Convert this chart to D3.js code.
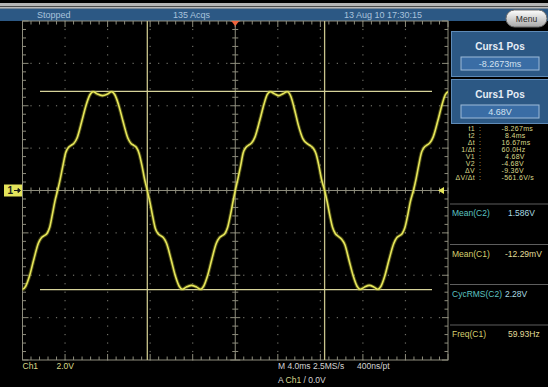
<!DOCTYPE html>
<html>
<head>
<meta charset="utf-8">
<script src="https://cdn.jsdelivr.net/npm/d3@7"></script>
<style>
  html, body { margin: 0; padding: 0; background: #000; }
  svg { display: block; font-family: "Liberation Sans", Arial, sans-serif; }
</style>
</head>
<body>
<div class="g-chart"></div>
<script>
//Screen size
var width = 548, height = 387;

//Graticule box, 10 x 8 divisions
var plot = {left: 22.5, right: 448, top: 21, bottom: 360};

//Ch1 trace: [time in ms, volts]
var ch1Trace = [
  [-20.35,-4.56],[-20.0,-4.66],[-19.7,-4.52],[-19.35,-4.05],[-18.95,-3.28],[-18.5,-2.48],
  [-18.2,-2.22],[-17.95,-2.13],[-17.7,-2.03],[-17.45,-1.75],[-17.2,-1.15],[-16.95,-0.5],[-16.7,0.0],
  [-16.45,0.55],[-16.19,1.2],[-15.94,1.78],[-15.68,2.03],[-15.43,2.13],[-15.18,2.22],[-14.87,2.48],
  [-14.42,3.28],[-14.01,4.05],[-13.66,4.52],[-13.35,4.66],[-12.99,4.56],[-12.49,4.48],[-11.98,4.56],
  [-11.63,4.66],[-11.32,4.52],[-10.97,4.05],[-10.56,3.28],[-10.10,2.48],[-9.80,2.22],[-9.54,2.13],
  [-9.29,2.03],[-9.04,1.75],[-8.78,1.2],[-8.53,0.55],[-8.27,0.0],
  [-8.02,-0.55],[-7.77,-1.2],[-7.52,-1.78],[-7.27,-2.03],[-7.02,-2.13],[-6.77,-2.22],[-6.47,-2.48],
  [-6.02,-3.28],[-5.62,-4.05],[-5.27,-4.52],[-4.97,-4.66],[-4.62,-4.56],[-4.12,-4.48],[-3.62,-4.56],
  [-3.27,-4.66],[-2.97,-4.52],[-2.62,-4.05],[-2.22,-3.28],[-1.77,-2.48],[-1.47,-2.22],[-1.22,-2.13],
  [-0.97,-2.03],[-0.72,-1.75],[-0.47,-1.2],[-0.22,-0.55],[0.0,0.0],
  [0.25,0.55],[0.5,1.15],[0.75,1.78],[1.0,2.03],[1.3,2.15],[1.55,2.25],[1.85,2.52],[2.3,3.3],
  [2.7,4.07],[3.0,4.52],[3.3,4.66],[3.7,4.56],[4.1,4.48],[4.5,4.57],[4.88,4.66],[5.22,4.45],
  [5.56,3.85],[5.95,3.05],[6.35,2.45],[6.8,2.2],[7.1,2.1],[7.35,1.98],[7.6,1.72],[7.85,1.2],
  [8.1,0.55],[8.4,0.0],
  [8.65,-0.55],[8.9,-1.2],[9.15,-1.75],[9.4,-2.03],[9.7,-2.17],[10.0,-2.3],[10.3,-2.55],[10.7,-3.3],
  [11.1,-4.05],[11.45,-4.52],[11.75,-4.66],[12.15,-4.56],[12.6,-4.48],[13.05,-4.56],[13.4,-4.66],
  [13.7,-4.52],[14.05,-4.05],[14.45,-3.28],[14.9,-2.5],[15.2,-2.22],[15.45,-2.13],[15.7,-2.03],
  [15.95,-1.75],[16.2,-1.2],[16.45,-0.55],[16.75,0.0],
  [17.0,0.55],[17.25,1.2],[17.5,1.78],[17.75,2.03],[18.05,2.15],[18.3,2.25],[18.6,2.52],[19.05,3.3],
  [19.45,4.07],[19.75,4.52],[20.05,4.66],[20.4,4.56]
];

//Cursor positions
var cursorTimes = [-8.267, 8.4];
var cursorVolts = [4.68, -4.68];

//Division lines (4 ms/div, 2 V/div)
var timeDivs = [-16, -12, -8, -4, 4, 8, 12, 16];
var voltDivs = [-6, -4, -2, 2, 4, 6];

//Header texts
var headerTexts = ["Stopped", "135 Acqs", "13 Aug 10 17:30:15"];

//Cursor readout
var readoutLabels = ["t1", "t2", "Δt", "1/Δt", "V1", "V2", "ΔV", "ΔV/Δt"];
var readoutValues = ["-8.267ms", " 8.4ms", "16.67ms", "60.0Hz", " 4.68V", "-4.68V", "-9.36V", "-561.6V/s"];

//Measurements
var measLabels = ["Mean(C2)", "Mean(C1)", "CycRMS(C2)", "Freq(C1)"];
var measValues = ["1.586V", "-12.29mV", "2.28V", "59.93Hz"];
var measChannels = ["C2", "C1", "C2", "C1"];

//Colours
var yellow = "#e6e65a",
    textYellow = "#d9d88a",
    cyanLabel = "#5cc3c0",
    cyanValue = "#a9dbe2",
    gratColor = "#8d8c7c",
    dotColor = "#6e6e66",
    cursorColor = "#c9c48c",
    blue = "#2c5884";

var svg = d3.select(".g-chart").append("svg")
  .attr("width", width)
  .attr("height", height);

svg.append("rect").attr("width", width).attr("height", height).attr("fill", "#000");

//Scales
var xScale = d3.scaleLinear().domain([-20, 20]).range([plot.left, plot.right]);
var yScale = d3.scaleLinear().domain([-8, 8]).range([plot.bottom, plot.top]);

//Top strip and header bar
svg.append("rect").attr("x", 0).attr("y", 3).attr("width", width).attr("height", 3).attr("fill", "#b5b5b5");
svg.append("rect").attr("x", 0).attr("y", 6).attr("width", width).attr("height", 1.2).attr("fill", "#4a4a4a");
svg.append("rect").attr("x", 0).attr("y", 7.2).attr("width", width).attr("height", 1.5).attr("fill", "#e4e4e4");
svg.append("rect").attr("x", 0).attr("y", 8.7).attr("width", width).attr("height", 12.3).attr("fill", blue);

var headerX = [37, 173, 344];
svg.selectAll(".hdr")
  .data(headerTexts)
  .enter().append("text")
  .attr("class", "hdr")
  .attr("x", function(d, i) { return headerX[i]; })
  .attr("y", 18.3)
  .attr("font-size", 9)
  .attr("fill", "#a9c3dc")
  .text(function(d) { return d; });

//Menu button
var grad = svg.append("defs").append("linearGradient")
  .attr("id", "menuGrad").attr("x1", 0).attr("y1", 0).attr("x2", 0).attr("y2", 1);
grad.append("stop").attr("offset", "0%").attr("stop-color", "#ffffff");
grad.append("stop").attr("offset", "100%").attr("stop-color", "#a8a8a8");
svg.append("rect")
  .attr("x", 506).attr("y", 10).attr("width", 41).attr("height", 17).attr("rx", 8.5)
  .attr("fill", "url(#menuGrad)").attr("stroke", "#6c6c6c").attr("stroke-width", 1);
svg.append("text")
  .attr("x", 526.5).attr("y", 21.5).attr("text-anchor", "middle")
  .attr("font-size", 8.5).attr("fill", "#2a2a2a").text("Menu");

//Graticule
var grat = svg.append("g").attr("class", "graticule");

//Dotted division lines
var minorT = d3.range(-20, 20.01, 0.8);
var minorV = d3.range(-8, 8.01, 0.4);
timeDivs.forEach(function(t) {
  grat.selectAll(null).data(minorV).enter().append("rect")
    .attr("x", xScale(t) - 0.6).attr("y", function(v) { return yScale(v) - 0.6; })
    .attr("width", 1.2).attr("height", 1.2).attr("fill", dotColor);
});
voltDivs.forEach(function(v) {
  grat.selectAll(null).data(minorT).enter().append("rect")
    .attr("x", function(t) { return xScale(t) - 0.6; }).attr("y", yScale(v) - 0.6)
    .attr("width", 1.2).attr("height", 1.2).attr("fill", dotColor);
});

//Frame and centre lines
grat.append("rect")
  .attr("x", plot.left).attr("y", plot.top)
  .attr("width", plot.right - plot.left).attr("height", plot.bottom - plot.top)
  .attr("fill", "none").attr("stroke", gratColor).attr("stroke-width", 1);
grat.append("line")
  .attr("x1", plot.left).attr("x2", plot.right)
  .attr("y1", yScale(0)).attr("y2", yScale(0))
  .attr("stroke", gratColor);
grat.append("line")
  .attr("x1", xScale(0)).attr("x2", xScale(0))
  .attr("y1", plot.top).attr("y2", plot.bottom)
  .attr("stroke", gratColor);

function isMajor(v, step) { return Math.abs(v / step - Math.round(v / step)) < 1e-6; }

//Ticks on the horizontal edges and the horizontal centre line
grat.selectAll(".tx").data(minorT).enter().append("path")
  .attr("class", "tx")
  .attr("d", function(t) {
    var x = xScale(t), big = isMajor(t, 4) ? 6 : 3.5;
    return "M" + x + "," + plot.top + "v" + big +
           "M" + x + "," + plot.bottom + "v" + (-big) +
           "M" + x + "," + (yScale(0) - 3) + "v6";
  })
  .attr("stroke", gratColor).attr("stroke-width", 1);

//Ticks on the vertical edges and the vertical centre line
grat.selectAll(".ty").data(minorV).enter().append("path")
  .attr("class", "ty")
  .attr("d", function(v) {
    var y = yScale(v), big = isMajor(v, 2) ? 6 : 3.5;
    var c = isMajor(v, 2) ? 5 : 3;
    return "M" + plot.left + "," + y + "h" + big +
           "M" + plot.right + "," + y + "h" + (-big) +
           "M" + (xScale(0) - c) + "," + y + "h" + (2 * c);
  })
  .attr("stroke", gratColor).attr("stroke-width", 1);

//Cursors
svg.selectAll(".vcur").data(cursorTimes).enter().append("line")
  .attr("class", "vcur")
  .attr("x1", function(d) { return xScale(d); }).attr("x2", function(d) { return xScale(d); })
  .attr("y1", plot.top).attr("y2", plot.bottom)
  .attr("stroke", cursorColor).attr("stroke-width", 1.3);
svg.selectAll(".hcur").data(cursorVolts).enter().append("line")
  .attr("class", "hcur")
  .attr("x1", 40).attr("x2", 432)
  .attr("y1", function(d) { return yScale(d); }).attr("y2", function(d) { return yScale(d); })
  .attr("stroke", "#d6d39a").attr("stroke-width", 1.3);

//Ch1 waveform
svg.append("clipPath").attr("id", "gratClip").append("rect")
  .attr("x", plot.left).attr("y", plot.top)
  .attr("width", plot.right - plot.left).attr("height", plot.bottom - plot.top);

var line = d3.line()
  .x(function(d) { return xScale(d[0]); })
  .y(function(d) { return yScale(d[1]); })
  .curve(d3.curveMonotoneX);

var traceG = svg.append("g").attr("clip-path", "url(#gratClip)");
traceG.append("path").datum(ch1Trace)
  .attr("d", line).attr("fill", "none")
  .attr("stroke", "#9c9c2a").attr("stroke-opacity", 0.45).attr("stroke-width", 3.6);
traceG.append("path").datum(ch1Trace)
  .attr("d", line).attr("fill", "none")
  .attr("stroke", yellow).attr("stroke-width", 1.6);

//Trigger position marker (top) and trigger level marker (right)
svg.append("path")
  .attr("d", "M" + (xScale(0) - 4) + "," + plot.top + "h8l-4,5z")
  .attr("fill", "#f0643c");
svg.append("path")
  .attr("d", "M" + (plot.right - 10) + "," + yScale(0) + "l6,-3.5v7z")
  .attr("fill", yellow);

//Channel 1 ground marker
svg.append("rect")
  .attr("x", 4).attr("y", yScale(0) - 6).attr("width", 18).attr("height", 12)
  .attr("fill", "#e3e35a");
svg.append("text")
  .attr("x", 7.5).attr("y", yScale(0) + 3.8)
  .attr("font-size", 10).attr("font-weight", "bold").attr("fill", "#1a1a1a").text("1");
svg.append("path")
  .attr("d", "M14," + yScale(0) + "h4M18," + (yScale(0) - 2) + "l2.5,2l-2.5,2z")
  .attr("stroke", "#1a1a1a").attr("stroke-width", 1).attr("fill", "#1a1a1a");

//Right side panel: cursor position boxes
var boxes = [{y: 31.5, h: 45, value: "-8.2673ms"}, {y: 79.5, h: 44, value: "4.68V"}];
boxes.forEach(function(b) {
  svg.append("rect")
    .attr("x", 451.5).attr("y", b.y).attr("width", 97).attr("height", b.h)
    .attr("fill", blue).attr("stroke", "#5f8bb7").attr("stroke-width", 1);
  svg.append("text")
    .attr("x", 500).attr("y", b.y + 18.5).attr("text-anchor", "middle")
    .attr("font-size", 10).attr("font-weight", "bold").attr("fill", "#e6edf5")
    .text("Curs1 Pos");
  svg.append("rect")
    .attr("x", 461).attr("y", b.y + 25.5).attr("width", 78).attr("height", 13)
    .attr("fill", "#3a6da5").attr("stroke", "#9dbbd9").attr("stroke-width", 1);
  svg.append("text")
    .attr("x", 500).attr("y", b.y + 35.3).attr("text-anchor", "middle")
    .attr("font-size", 9).attr("fill", "#d4e2f0")
    .text(b.value);
});

//Cursor readout block
var readout = svg.append("g").attr("font-size", 7).attr("letter-spacing", 0.3).attr("fill", textYellow);
readout.selectAll(".rl").data(readoutLabels).enter().append("text")
  .attr("class", "rl")
  .attr("x", 475).attr("y", function(d, i) { return 130.5 + i * 7.1; })
  .attr("text-anchor", "end")
  .text(function(d) { return d; });
readout.selectAll(".rc").data(readoutLabels).enter().append("text")
  .attr("class", "rc")
  .attr("x", 479).attr("y", function(d, i) { return 130.5 + i * 7.1; })
  .text(":");
readout.selectAll(".rv").data(readoutValues).enter().append("text")
  .attr("class", "rv")
  .attr("x", function(d) { return d.charAt(0) === " " ? 505 : 501.5; })
  .attr("y", function(d, i) { return 130.5 + i * 7.1; })
  .text(function(d) { return d.trim(); });

//Measurement rows
var measTop = [204, 244.5, 284.5, 325];
svg.selectAll(".msep").data(measTop).enter().append("line")
  .attr("class", "msep")
  .attr("x1", 450).attr("x2", width)
  .attr("y1", function(d) { return d; }).attr("y2", function(d) { return d; })
  .attr("stroke", "#5e5e5e").attr("stroke-width", 1.2);
svg.selectAll(".mlab").data(measLabels).enter().append("text")
  .attr("class", "mlab")
  .attr("x", 452).attr("y", function(d, i) { return measTop[i] + 12; })
  .attr("font-size", 8.5)
  .attr("fill", function(d, i) { return measChannels[i] === "C2" ? cyanLabel : "#d6cf6e"; })
  .text(function(d) { return d; });
svg.selectAll(".mval").data(measValues).enter().append("text")
  .attr("class", "mval")
  .attr("x", function(d) { return d.charAt(0) === "-" || d.length < 6 ? 505 : 508; })
  .attr("y", function(d, i) { return measTop[i] + 12; })
  .attr("font-size", 8.5)
  .attr("fill", function(d, i) { return measChannels[i] === "C2" ? cyanValue : "#e2dd98"; })
  .text(function(d) { return d; });

//Bottom status line
var statusG = svg.append("g").attr("font-size", 8.5);
statusG.append("text").attr("x", 22.5).attr("y", 369).attr("fill", textYellow).text("Ch1");
statusG.append("text").attr("x", 56.5).attr("y", 369).attr("fill", textYellow).text("2.0V");
statusG.append("text").attr("x", 278).attr("y", 369).attr("fill", "#d4d4d4").text("M 4.0ms 2.5MS/s");
statusG.append("text").attr("x", 357).attr("y", 369).attr("fill", "#d4d4d4").text("400ns/pt");
var trig = statusG.append("text").attr("x", 278).attr("y", 382.5).attr("fill", "#d4d4d4");
trig.append("tspan").text("A ");
trig.append("tspan").attr("fill", textYellow).text("Ch1");
trig.append("tspan").text("  /  0.0V");
</script>
</body>
</html>
